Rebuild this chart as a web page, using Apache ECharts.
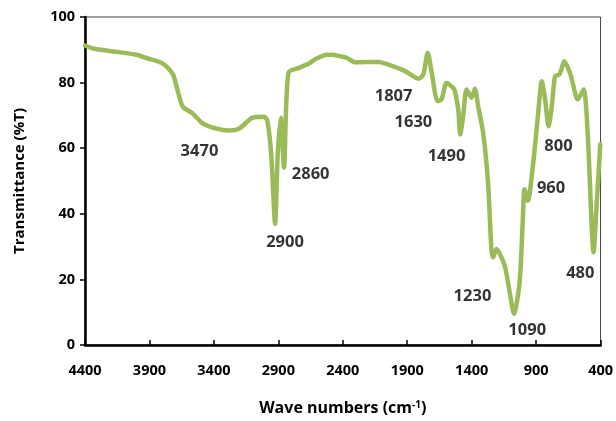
<!DOCTYPE html>
<html>
<head>
<meta charset="utf-8">
<script src="https://cdn.jsdelivr.net/npm/echarts@6/dist/echarts.min.js"></script>
<style>html,body{margin:0;padding:0;background:#fff}#c{width:616px;height:421px}</style>
</head>
<body>
<div id="c"></div>
<script>
const wavenumbers = [4400, 4336, 4181, 4001, 3924, 3795, 3718, 3680, 3641, 3564, 3487, 3383, 3280, 3203, 3100, 3010, 2985, 2955, 2925, 2905, 2881, 2856, 2822, 2740, 2663, 2611, 2521, 2483, 2418, 2367, 2302, 2122, 2045, 1916, 1813, 1775, 1741, 1710, 1664, 1633, 1595, 1543, 1530, 1504, 1489, 1466, 1440, 1401, 1375, 1350, 1311, 1273, 1247, 1234, 1209, 1144, 1105, 1072, 1028, 1002, 990, 964, 925, 886, 856, 830, 804, 778, 753, 719, 680, 629, 577, 531, 500, 454, 428, 402];
const transmittance = [91.3, 90.4, 89.5, 88.5, 87.5, 85.8, 82.5, 77.4, 72.6, 70.6, 67.6, 66.0, 65.4, 66.0, 69.3, 69.6, 68.3, 58.0, 36.9, 58.0, 69.3, 54.1, 83.0, 84.5, 85.8, 87.2, 88.5, 88.5, 88.0, 87.5, 86.2, 86.3, 85.5, 83.5, 81.2, 82.5, 89.1, 83.0, 74.3, 74.9, 79.9, 78.4, 77.4, 71.8, 64.2, 69.8, 77.9, 75.4, 78.1, 72.8, 64.7, 49.5, 29.3, 26.7, 29.3, 24.2, 16.1, 9.5, 19.1, 39.4, 47.5, 44.0, 54.6, 69.8, 80.4, 74.9, 66.7, 72.8, 81.9, 82.5, 86.5, 81.9, 74.9, 77.9, 64.7, 28.3, 44.5, 61.2];
const peakLabels = ['3470', '2900', '2860', '1807', '1630', '1490', '800', '960', '1230', '1090', '480'];
const peakLabelX = [3512, 2848, 2649, 2006, 1852, 1595, 727, 784, 1394, 969, 557];
const peakLabelY = [59.1, 31.3, 52.1, 75.9, 67.8, 57.6, 60.7, 47.7, 14.9, 4.4, 22.0];
const xTicks = { min: 400, max: 4400, step: 500 };
const yTicks = { min: 0, max: 100, step: 20 };

const font = '"Open Sans", "Liberation Sans", sans-serif';
const chart = echarts.init(document.getElementById('c'), null, { renderer: 'canvas' });
chart.setOption({
  animation: false,
  backgroundColor: '#ffffff',
  grid: { left: 85, right: 13, top: 17, bottom: 75, show: true, borderColor: '#404040', borderWidth: 1, containLabel: false },
  xAxis: {
    type: 'value', inverse: true, min: xTicks.min, max: xTicks.max, interval: xTicks.step,
    name: '{a|Wave numbers (cm}{b|-1}{a|)}', nameLocation: 'middle', nameGap: 55,
    nameTextStyle: { rich: {
      a: { fontFamily: font, fontWeight: 'bold', fontSize: 16, color: '#000' },
      b: { fontFamily: font, fontWeight: 'bold', fontSize: 10, color: '#000', verticalAlign: 'top', lineHeight: 10 }
    } },
    axisLine: { show: true, onZero: false, lineStyle: { color: '#000', width: 2.5 } },
    axisTick: { show: true, inside: true, length: 5, lineStyle: { color: '#000', width: 1.5 } },
    axisLabel: { fontFamily: font, fontWeight: 'bold', fontSize: 14.5, color: '#000', margin: 18, formatter: v => String(v) },
    splitLine: { show: false }
  },
  yAxis: {
    type: 'value', min: yTicks.min, max: yTicks.max, interval: yTicks.step,
    name: 'Transmittance (%T)', nameLocation: 'middle', nameGap: 58, nameRotate: 90,
    nameTextStyle: { fontFamily: font, fontWeight: 'bold', fontSize: 15, color: '#000' },
    axisLine: { show: true, onZero: false, lineStyle: { color: '#000', width: 2.5 } },
    axisTick: { show: true, inside: false, length: 5, lineStyle: { color: '#000', width: 1.5 } },
    axisLabel: { fontFamily: font, fontWeight: 'bold', fontSize: 14.5, color: '#000', margin: 10, formatter: v => String(v) },
    splitLine: { show: false }
  },
  series: [
    {
      type: 'line', data: wavenumbers.map((w, i) => [w, transmittance[i]]),
      smooth: 0.25, showSymbol: false, symbol: 'none',
      lineStyle: { color: '#9BBB59', width: 4.5, cap: 'round', join: 'round' },
      z: 3
    },
    {
      type: 'scatter', symbolSize: 0, silent: true,
      data: peakLabelX.map((x, i) => ({ value: [x, peakLabelY[i]], name: peakLabels[i] })),
      label: { show: true, position: 'inside', formatter: p => p.name,
        fontFamily: font, fontWeight: 'bold', fontSize: 16.5, color: '#000' },
      z: 4
    }
  ]
});
</script>
</body>
</html>
